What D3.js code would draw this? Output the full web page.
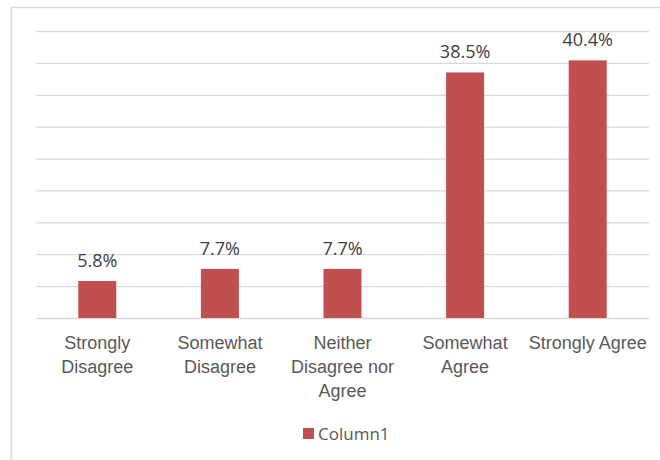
<!DOCTYPE html>
<html>
<head>
<meta charset="utf-8">
<script src="https://cdn.jsdelivr.net/npm/d3@7"></script>
<style>
  body { margin: 0; background: #fff; }
  svg { font-family: "Open Sans", sans-serif; }
</style>
</head>
<body>
<div id="chart"></div>
<script>
// survey answers, share of respondents (%)
var categories = ['Strongly Disagree', 'Somewhat Disagree', 'Neither Disagree nor Agree', 'Somewhat Agree', 'Strongly Agree'];
var labelLines = [['Strongly', 'Disagree'], ['Somewhat', 'Disagree'], ['Neither', 'Disagree nor', 'Agree'], ['Somewhat', 'Agree'], ['Strongly Agree']];
var values = [5.8, 7.7, 7.7, 38.5, 40.4];
var gridTicks = [0, 5, 10, 15, 20, 25, 30, 35, 40, 45];
var seriesName = 'Column1';

const W = 660, H = 460;
const margin = { top: 31, right: 11, bottom: 142, left: 36 },
    width = W - margin.left - margin.right,
    height = H - margin.top - margin.bottom;

const svg = d3.select('#chart').append('svg')
    .attr('width', W)
    .attr('height', H);

// outer chart frame (only top/left visible in the picture)
svg.append('rect')
    .attr('x', 11.5).attr('y', 7.5)
    .attr('width', W + 20).attr('height', H + 20)
    .attr('fill', 'none')
    .attr('stroke', '#d9d9d9')
    .attr('stroke-width', 1.5);

const g = svg.append('g')
    .attr('transform', `translate(${margin.left}, ${margin.top})`);

const x = d3.scaleBand()
    .domain(categories)
    .range([0, width])
    .paddingInner(0.69)
    .paddingOuter(0.345);

const y = d3.scaleLinear()
    .domain([0, 45])
    .range([height, 0]);

// gridlines
const grid = g.append('g')
    .call(d3.axisLeft(y).tickValues(gridTicks).tickSize(-width).tickFormat(''));
grid.select('.domain').remove();
grid.selectAll('.tick line')
    .attr('stroke', '#d9d9d9')
    .attr('stroke-width', 1.3);

// bars
g.selectAll('.bar')
    .data(values)
    .enter().append('rect')
    .attr('class', 'bar')
    .attr('x', (d, i) => x(categories[i]))
    .attr('y', d => y(d))
    .attr('width', x.bandwidth())
    .attr('height', d => y(0) - y(d))
    .attr('fill', '#c0504d');

// value labels
g.selectAll('.val')
    .data(values)
    .enter().append('text')
    .attr('class', 'val')
    .attr('x', (d, i) => x(categories[i]) + x.bandwidth() / 2)
    .attr('y', d => y(d) - 14)
    .attr('text-anchor', 'middle')
    .attr('fill', '#404040')
    .style('font-size', '18px')
    .text(d => d.toFixed(1) + '%');

// category axis
const xAxis = g.append('g')
    .attr('transform', `translate(0, ${height})`)
    .call(d3.axisBottom(x).tickSize(0).tickFormat(''));
xAxis.select('.domain').remove();
xAxis.selectAll('.tick').each(function(d, i) {
    const t = d3.select(this).append('text')
        .attr('text-anchor', 'middle')
        .attr('fill', '#595959')
        .style('font-size', '18px');
    labelLines[i].forEach((line, j) => {
        t.append('tspan')
            .attr('x', 0)
            .attr('y', 31 + j * 24)
            .text(line);
    });
});

// legend
const legend = svg.append('g')
    .attr('transform', 'translate(303, 428)');
legend.append('rect')
    .attr('width', 11).attr('height', 11)
    .attr('fill', '#c0504d');
legend.append('text')
    .attr('x', 15).attr('y', 12)
    .attr('fill', '#595959')
    .style('font-size', '17px')
    .text(seriesName);
</script>
</body>
</html>
